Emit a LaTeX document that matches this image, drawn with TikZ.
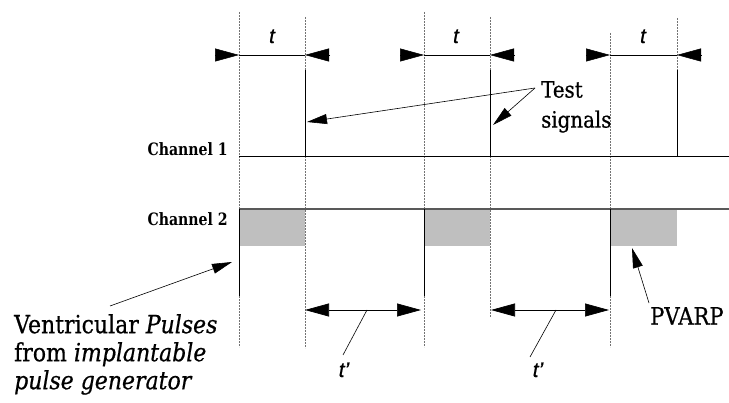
\documentclass[tikz,border=0pt]{standalone}
\usepackage{fontspec}
\setmainfont{DejaVu Serif}
\newfontfamily\lblfont[FakeStretch=0.88,FakeBold=0.6]{DejaVu Serif}
\newfontfamily\chfont[FakeStretch=0.83]{DejaVu Serif}
\newfontfamily\tfont[FakeBold=0.5]{Liberation Sans}
\usetikzlibrary{arrows.meta}
\begin{document}
\begin{tikzpicture}[x=1pt,y=-1pt,
  guide/.style={draw=black!55,line width=0.5pt,dash pattern=on 0.6pt off 0.9pt},
  pulse/.style={draw=black,line width=1pt},
  period/.style={draw=black,line width=0.7pt},
  bigtip/.style={-{Triangle[length=24pt,width=13pt]}},
  dbltip/.style={{Triangle[length=24pt,width=13pt]}-{Triangle[length=24pt,width=13pt]}},
  ptr/.style={draw=black,line width=0.6pt,-{Triangle[length=20pt,width=10pt]}},
  leader/.style={draw=black,line width=0.6pt},
  refr/.style={fill=black!25,draw=none},
  biglbl/.style={font=\lblfont\fontsize{25}{28}\selectfont,inner sep=0pt,align=left},
  chlbl/.style={font=\chfont\bfseries\fontsize{17}{19}\selectfont,inner sep=0pt},
  tlbl/.style={font=\tfont\itshape\fontsize{21}{23}\selectfont,inner sep=0pt}]
\useasboundingbox (0,0) rectangle (729,403);
% refractory boxes
\fill[refr] (239,209) rectangle (305,246);
\fill[refr] (424,209) rectangle (490,246);
\fill[refr] (610,209) rectangle (677,246);
% guide lines
\draw[guide] (239,12) -- (239,209);
\draw[guide] (239,296) -- (239,347);
\draw[guide] (305,17) -- (305,70);
\draw[guide] (305,156) -- (305,348);
\draw[guide] (424,12) -- (424,209);
\draw[guide] (424,296) -- (424,347);
\draw[guide] (490,17) -- (490,70);
\draw[guide] (490,156) -- (490,317);
\draw[guide] (610,33) -- (610,209);
\draw[guide] (610,296) -- (610,347);
\draw[guide] (677,18) -- (677,70);
% channel baselines
\draw[line width=0.9pt] (239,156) -- (729,156);
\draw[draw=black!65,line width=1.3pt] (239,209) -- (729,209);
% test signals (channel 1)
\coordinate (s1t) at (305,70); \coordinate (s1b) at (305,156);
\coordinate (s2t) at (490,70); \coordinate (s2b) at (490,156);
\coordinate (s3t) at (677,70); \coordinate (s3b) at (677,156);
\draw[pulse] (s1t) -- (s1b);
\draw[pulse] (s2t) -- (s2b);
\draw[pulse] (s3t) -- (s3b);
% ventricular pulses (channel 2)
\coordinate (v1t) at (239,209); \coordinate (v1b) at (239,296);
\coordinate (v2t) at (424,209); \coordinate (v2b) at (424,296);
\coordinate (v3t) at (610,209); \coordinate (v3b) at (610,296);
\draw[pulse] (v1t) -- (v1b);
\draw[pulse] (v2t) -- (v2b);
\draw[pulse] (v3t) -- (v3b);
% t intervals
\coordinate (a1l) at (239,55); \coordinate (a1r) at (305,55);
\coordinate (a1lo) at (215,55); \coordinate (a1ro) at (330,55);
\coordinate (a2l) at (424,55); \coordinate (a2r) at (490,55);
\coordinate (a2lo) at (400,55); \coordinate (a2ro) at (514,55);
\coordinate (a3l) at (610,55); \coordinate (a3r) at (677,55);
\coordinate (a3lo) at (586,55); \coordinate (a3ro) at (701,55);
\draw[period] (a1l) -- (a1r);
\draw[period] (a2l) -- (a2r);
\draw[period] (a3l) -- (a3r);
\draw[bigtip,line width=0.5pt] (a1lo) -- (a1l);
\draw[bigtip,line width=0.5pt] (a1ro) -- (a1r);
\draw[bigtip,line width=0.5pt] (a2lo) -- (a2l);
\draw[bigtip,line width=0.5pt] (a2ro) -- (a2r);
\draw[bigtip,line width=0.5pt] (a3lo) -- (a3l);
\draw[bigtip,line width=0.5pt] (a3ro) -- (a3r);
\node[tlbl,anchor=base] (t1) at (272,43) {t};
\node[tlbl,anchor=base] (t2) at (456,43) {t};
\node[tlbl,anchor=base] (t3) at (643,43) {t};
% t' intervals
\coordinate (b1l) at (305,310); \coordinate (b1r) at (421,310);
\coordinate (b2l) at (491,310); \coordinate (b2r) at (609,310);
\draw[period,dbltip] (b1l) -- (b1r);
\draw[period,dbltip] (b2l) -- (b2r);
\coordinate (b1m) at (367,310); \coordinate (b2m) at (556,310);
\node[tlbl,anchor=base] (tp1) at (344,377) {t’};
\node[tlbl,anchor=base] (tp2) at (538,377) {t’};
\coordinate (tp1e) at (343,355); \coordinate (tp2e) at (530,357);
\draw[leader] (b1m) -- (tp1e);
\draw[leader] (b2m) -- (tp2e);
% channel labels
\node[chlbl,anchor=base east] (ch1) at (228,156) {Channel 1};
\node[chlbl,anchor=base east] (ch2) at (228,226) {Channel 2};
% Test signals
\node[biglbl,anchor=north west,font=\lblfont\fontsize{22.5}{30}\selectfont] (test) at (541,81) {Test\\signals};
\coordinate (tsrc) at (535,88);
\coordinate (tip1) at (307,122);
\coordinate (tip2) at (493,125);
\draw[ptr] (tsrc) -- (tip1);
\draw[ptr] (tsrc) -- (tip2);
% Ventricular pulses label
\node[biglbl,anchor=north west] (vent) at (14,314) {Ventricular \textit{Pulses}\\from \textit{implantable}\\\textit{pulse generator}};
\coordinate (vsrc) at (110,306);
\coordinate (vtip) at (232,262);
\draw[ptr] (vsrc) -- (vtip);
% PVARP
\node[biglbl,anchor=north west,font=\lblfont\fontsize{24}{27}\selectfont] (pvarp) at (650,307) {PVARP};
\coordinate (psrc) at (649,303);
\coordinate (ptip) at (632,248);
\draw[ptr] (psrc) -- (ptip);
\end{tikzpicture}
\end{document}
